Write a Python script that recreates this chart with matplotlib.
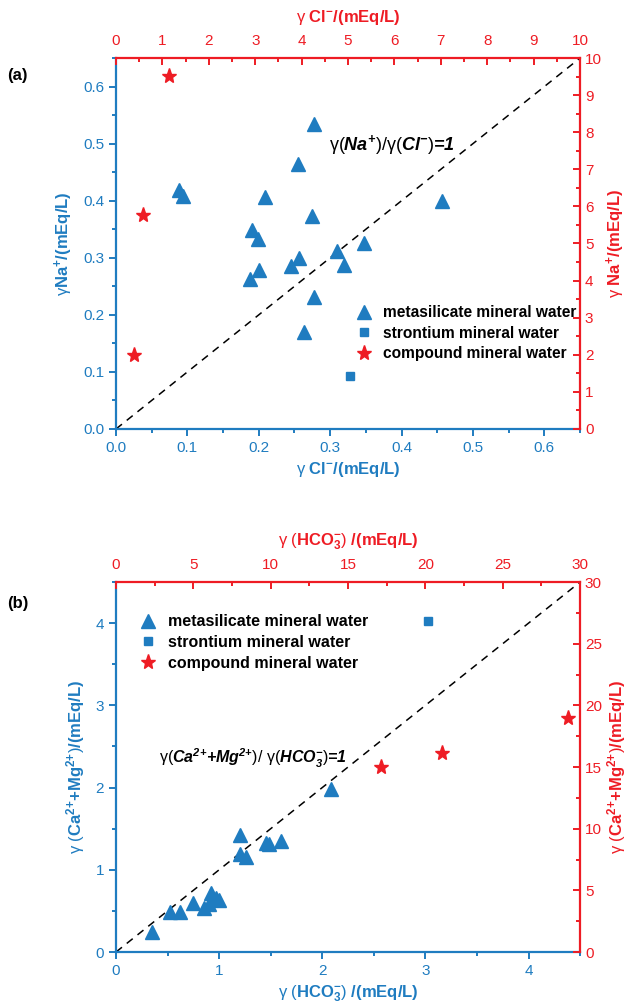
import matplotlib.pyplot as plt
from matplotlib.ticker import MultipleLocator
from matplotlib.lines import Line2D

plt.rcParams['font.family'] = ['Liberation Sans', 'DejaVu Sans']
plt.rcParams['mathtext.fontset'] = 'custom'
plt.rcParams['mathtext.rm'] = 'Liberation Sans'
plt.rcParams['mathtext.bf'] = 'Liberation Sans:bold'
plt.rcParams['mathtext.it'] = 'Liberation Sans:italic'
plt.rcParams['mathtext.bfit'] = 'Liberation Sans:bold:italic'

BLUE = '#1f7cc0'
RED = '#ee1c24'

########################################
#              Data                    #
########################################

# (a) gamma Cl- vs gamma Na+  (bottom/left axes, mEq/L)
a_tri_cl = [0.278, 0.255, 0.088, 0.094, 0.208, 0.457, 0.275, 0.191, 0.199,
            0.348, 0.310, 0.257, 0.245, 0.319, 0.200, 0.188, 0.278, 0.264]
a_tri_na = [0.535, 0.464, 0.418, 0.409, 0.406, 0.399, 0.374, 0.348, 0.332,
            0.325, 0.312, 0.299, 0.285, 0.288, 0.279, 0.263, 0.231, 0.170]
a_sq_cl = [0.328]
a_sq_na = [0.092]
# compound water on top/right axes (0-10)
a_star_cl = [1.14, 0.59, 0.38]
a_star_na = [9.52, 5.77, 2.00]

# (b) gamma HCO3- vs gamma (Ca2+ + Mg2+)
b_tri_hco3 = [0.35, 0.52, 0.62, 0.75, 0.85, 0.90, 0.92, 0.97, 1.00,
              1.20, 1.20, 1.26, 1.45, 1.48, 1.60, 2.08]
b_tri_camg = [0.24, 0.49, 0.49, 0.60, 0.53, 0.58, 0.72, 0.66, 0.63,
              1.42, 1.19, 1.15, 1.32, 1.31, 1.35, 1.98]
b_sq_hco3 = [3.03]
b_sq_camg = [4.03]
b_star_hco3 = [17.1, 21.1, 29.2]
b_star_camg = [15.0, 16.1, 19.0]

legend_labels = ['metasilicate mineral water', 'strontium mineral water',
                 'compound mineral water']

cl_label = r"$\mathrm{γ\ }\mathbf{Cl^{{-}}/(mEq/L)}$"
na_left = r"$\mathrm{γ}\mathbf{Na^{{+}}/(mEq/L)}$"
na_right = r"$\mathrm{γ\ }\mathbf{Na^{{+}}/(mEq/L)}$"
hco3_label = r"$\mathrm{γ\ (}\mathbf{HCO_{3}^{{-}}}\mathrm{)}\mathbf{\ /(mEq/L)}$"
camg_label = r"$\mathrm{γ\ (}\mathbf{Ca^{2{+}}{+}Mg^{2{+}}}\mathrm{)}\mathbf{/(mEq/L)}$"


########################################
#              Helpers                 #
########################################

def setup_axes(fig, rect, lim1, lim2, maj1, min1, maj2, min2):
    ax = fig.add_axes(rect)
    ax2 = fig.add_axes(rect, facecolor='none')

    ax.set_xlim(0, lim1)
    ax.set_ylim(0, lim1)
    ax2.set_xlim(0, lim2)
    ax2.set_ylim(0, lim2)

    for s in ['top', 'right']:
        ax.spines[s].set_visible(False)
    for s in ['bottom', 'left']:
        ax2.spines[s].set_visible(False)
        ax.spines[s].set_color(BLUE)
        ax.spines[s].set_linewidth(1.6)
    for s in ['top', 'right']:
        ax2.spines[s].set_color(RED)
        ax2.spines[s].set_linewidth(1.6)

    ax.xaxis.set_major_locator(MultipleLocator(maj1))
    ax.xaxis.set_minor_locator(MultipleLocator(min1))
    ax.yaxis.set_major_locator(MultipleLocator(maj1))
    ax.yaxis.set_minor_locator(MultipleLocator(min1))
    ax.tick_params(which='both', direction='out', colors=BLUE, labelsize=11,
                   width=1.4)
    ax.tick_params(which='major', length=5)
    ax.tick_params(which='minor', length=3)

    ax2.xaxis.tick_top()
    ax2.yaxis.tick_right()
    ax2.xaxis.set_label_position('top')
    ax2.yaxis.set_label_position('right')
    ax2.xaxis.set_major_locator(MultipleLocator(maj2))
    ax2.xaxis.set_minor_locator(MultipleLocator(min2))
    ax2.yaxis.set_major_locator(MultipleLocator(maj2))
    ax2.yaxis.set_minor_locator(MultipleLocator(min2))
    ax2.tick_params(which='both', direction='in', colors=RED, labelsize=11,
                    width=1.4)
    ax2.tick_params(which='major', length=5)
    ax2.tick_params(which='minor', length=3)
    ax2.tick_params(axis='x', pad=7)

    ax.plot([0, lim1], [0, lim1], '--', color='black', lw=1.1, dashes=(5, 4))
    return ax, ax2


def legend_handles():
    return [
        Line2D([], [], ls='none', marker='^', color=BLUE, ms=10),
        Line2D([], [], ls='none', marker='s', color=BLUE, ms=6),
        Line2D([], [], ls='none', marker='*', color=RED, ms=11),
    ]


fig = plt.figure(figsize=(6.28, 10.07), dpi=100)

########################################
#              Panel (a)               #
########################################

ax, ax2 = setup_axes(fig, [0.1847, 0.574, 0.739, 0.3684], 0.65, 10, 0.1, 0.05, 1, 0.5)
ax.xaxis.set_major_formatter(lambda v, p: f"{v:.1f}")
ax.yaxis.set_major_formatter(lambda v, p: f"{v:.1f}")

ax.plot(a_tri_cl, a_tri_na, '^', color=BLUE, ms=10, ls='none')
ax.plot(a_sq_cl, a_sq_na, 's', color=BLUE, ms=6, ls='none')
ax2.plot(a_star_cl, a_star_na, '*', color=RED, ms=11, ls='none')

ax.text(0.298, 0.497,
        r"$\mathrm{γ(}\mathbfit{Na^{{+}}}\mathrm{)/γ(}\mathbfit{Cl^{{-}}}\mathrm{)}$=1",
        fontsize=13, fontweight='bold', fontstyle='italic', va='center')

ax.set_xlabel(cl_label, color=BLUE, fontsize=12, labelpad=4)
ax.set_ylabel(na_left, color=BLUE, fontsize=12, labelpad=6)
ax2.set_xlabel(cl_label, color=RED, fontsize=12, labelpad=9)
ax2.set_ylabel(na_right, color=RED, fontsize=12, labelpad=2)

ax2.legend(legend_handles(), legend_labels, loc='upper left',
           bbox_to_anchor=(0.495, 0.35), frameon=False, handletextpad=0.5,
           borderaxespad=0, labelspacing=0.35, handlelength=1.5,
           prop={'weight': 'bold', 'size': 11.2})

fig.text(0.012, 0.925, "(a)", fontsize=12, fontweight='bold', va='center')

########################################
#              Panel (b)               #
########################################

bx, bx2 = setup_axes(fig, [0.1847, 0.0546, 0.739, 0.3674], 4.5, 30, 1, 0.5, 5, 2.5)

bx.plot(b_tri_hco3, b_tri_camg, '^', color=BLUE, ms=10, ls='none')
bx.plot(b_sq_hco3, b_sq_camg, 's', color=BLUE, ms=6, ls='none')
bx2.plot(b_star_hco3, b_star_camg, '*', color=RED, ms=11, ls='none')

bx.text(0.42, 2.36,
        r"$\mathrm{γ(}\mathbfit{Ca^{2{+}}{+}Mg^{2{+}}}\mathrm{)/\ γ(}\mathbfit{HCO_{3}^{{-}}}\mathrm{)}$=1",
        fontsize=11.5, fontweight='bold', fontstyle='italic', va='center')

bx.set_xlabel(hco3_label, color=BLUE, fontsize=12, labelpad=4)
bx.set_ylabel(camg_label, color=BLUE, fontsize=12, labelpad=6)
bx2.set_xlabel(hco3_label, color=RED, fontsize=12, labelpad=9)
bx2.set_ylabel(camg_label, color=RED, fontsize=12, labelpad=2)

bx2.legend(legend_handles(), legend_labels, loc='upper left',
           bbox_to_anchor=(0.03, 0.93), frameon=False, handletextpad=0.5,
           borderaxespad=0, labelspacing=0.35, handlelength=1.5,
           prop={'weight': 'bold', 'size': 11.5})

fig.text(0.012, 0.401, "(b)", fontsize=12, fontweight='bold', va='center')

fig.savefig('out.png', dpi=100)
